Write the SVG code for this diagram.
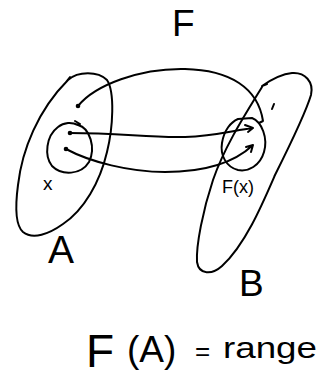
<svg xmlns="http://www.w3.org/2000/svg" width="323" height="377" viewBox="0 0 323 377">
<style>
.s{fill:none;stroke:#000;stroke-width:2;stroke-linecap:round;stroke-linejoin:round}
.t{font-family:"Liberation Sans",Arial,sans-serif;fill:#000}
.d{fill:#000}
</style>
<rect width="323" height="377" fill="#fff"/>
<g id="title"><text class="t" x="172" y="36" font-size="37">F</text></g>
<g id="setA">
<path class="s" d="M68,80 C78,71 98,71 107,80 C115,92 113,128 107,152 C100,182 84,210 63,224 C49,234 33,240 23,232 C14,224 16,200 18,185 C22,150 38,110 68,80 M66,82 L70,77"/>
<text class="t" x="48" y="263" font-size="39">A</text>
</g>
<g id="nodeX">
<path class="s" d="M78,125 C90,128 96,148 89,162 C81,175 62,176 52,166 C44,156 46,136 58,127 C64,122 72,122 78,125 M75,121 L80,124"/>
<text class="t" x="43" y="190" font-size="19">x</text>
</g>
<g id="setB">
<path class="s" d="M262,87 C248,110 225,145 213,180 C203,210 196,245 197,262 C199,275 212,275 222,266 C245,245 262,205 275,175 C290,145 305,115 311,95 C314,82 305,72 292,73 C282,74 272,79 262,86 L267,84"/>
<text class="t" x="239" y="296" font-size="37">B</text>
</g>
<g id="nodeFx">
<path class="s" d="M238,119 L252,118 C262,122 268,138 264,152 C260,166 248,172 238,170 C226,167 220,155 222,143 C224,130 231,122 238,119"/>
<text class="t" x="222" y="193" font-size="18">F(x)</text>
</g>
<g id="tick"><path class="s" d="M274,104 L272,109"/></g>
<g id="connectors">
<circle class="d" cx="78" cy="106" r="2.3"/>
<circle class="d" cx="70" cy="133" r="2.3"/>
<circle class="d" cx="66" cy="149" r="2.3"/>
<path class="s" d="M78,106 C95,85 140,68 185,69 C230,70 258,88 263,121 L259,123"/>
<path class="s" d="M70,133 C120,133 150,138 185,137 C215,136 235,130 253,128 M245,125 L253,128 L248,132"/>
<path class="s" d="M66,149 C90,162 130,172 165,172 C205,172 235,162 253,145 M246,147 L253,145 L251,152"/>
</g>
<g id="caption">
<text class="t" x="86" y="367" font-size="46">F</text>
<text class="t" x="127" y="362" font-size="37">(A)</text>
<text class="t" x="195" y="360" font-size="26">=</text>
<text class="t" x="223" y="358" font-size="30" textLength="94" lengthAdjust="spacingAndGlyphs">range</text>
</g>
</svg>
